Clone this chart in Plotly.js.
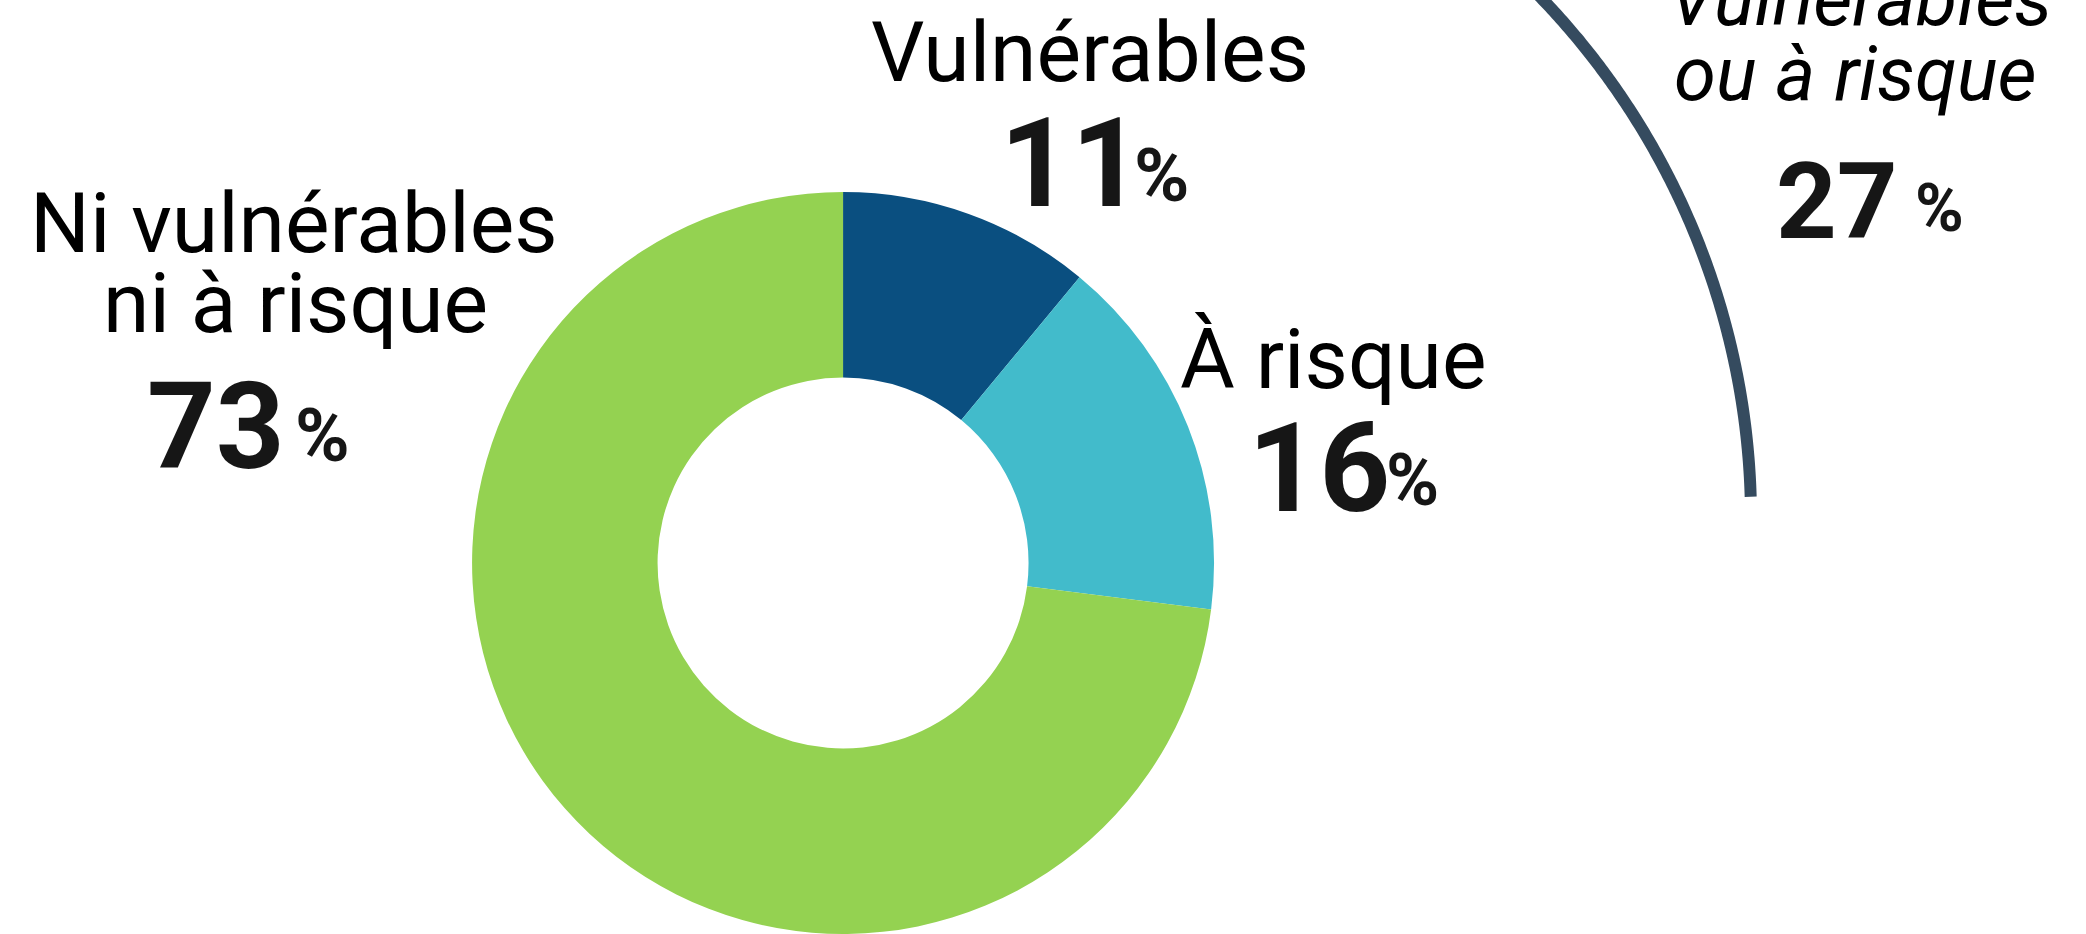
<!DOCTYPE html>
<html>
<head>
<meta charset="utf-8">
<script src="https://cdn.plot.ly/plotly-3.0.1.min.js"></script>
<style>
  html, body { margin: 0; padding: 0; background: #ffffff; }
  #chart { width: 2086px; height: 934px; }
</style>
</head>
<body>
<div id="chart"></div>
<script>
// ---- data ----
const categories = ["Vulnérables", "À risque", "Ni vulnérables ni à risque"];
const values = [11, 16, 73];
const colors = ["#0A4F80", "#42BBCB", "#94D251"];
const groupLabel = "Vulnérables ou à risque";
const groupValue = values[0] + values[1];

// ---- layout helpers (pixel coordinates on a hidden 2086x934 axis) ----
const W = 2086, H = 934;
const FONT = "Roboto, 'Noto Sans', sans-serif";
const DESC = 0.244; // Roboto descent ratio

function label(text, cx, baseline, size, italic) {
  return {
    xref: "x", yref: "y", x: cx, y: baseline + DESC * size + 2,
    xanchor: "center", yanchor: "bottom", showarrow: false,
    text: italic ? "<i>" + text + "</i>" : text,
    font: { family: FONT, size: size, color: "#000000" }
  };
}
function num(text, xLeft, baseline, size) {
  return {
    xref: "x", yref: "y", x: xLeft, y: baseline + DESC * size + 2,
    xanchor: "left", yanchor: "bottom", showarrow: false,
    text: text,
    font: { family: FONT, size: size, color: "#161616", weight: 700 }
  };
}

// decorative arc around the "vulnérables ou à risque" group
const arc = { cx: 999, cy: 519, r: 752, a0: 0, a1: 88.3 };
const arcX = [], arcY = [];
for (let i = 0; i <= 360; i++) {
  const a = (arc.a0 + (arc.a1 - arc.a0) * i / 360) * Math.PI / 180;
  arcX.push(arc.cx + arc.r * Math.sin(a));
  arcY.push(arc.cy - arc.r * Math.cos(a));
}

const nameParts = categories[2].split(" ni ");

const annotations = [
  // Vulnérables
  label(categories[0], 1090, 82, 84),
  num(String(values[0]), 998, 206, 124),
  num("%", 1132, 201, 75),
  // À risque
  label(categories[1], 1333, 388, 84),
  num(String(values[1]), 1246, 511, 124),
  num("%", 1384, 505, 72),
  // Ni vulnérables ni à risque
  label(nameParts[0], 294, 252, 84),
  label("ni " + nameParts[1], 295, 332, 84),
  num(String(values[2]), 145, 468, 120),
  num("%", 293, 461, 74),
  // group
  label(groupLabel.split(" ou ")[0], 1860, 25, 76, true),
  label("ou " + groupLabel.split(" ou ")[1], 1855, 100, 76, true),
  num(String(groupValue), 1774, 238, 106),
  num("%", 1913, 231, 66)
];

const data = [
  {
    type: "pie",
    labels: categories,
    values: values,
    sort: false,
    direction: "clockwise",
    rotation: 0,
    hole: 0.5,
    textinfo: "none",
    hoverinfo: "none",
    marker: { colors: colors, line: { width: 0 } },
    domain: { x: [0.2263, 0.5820], y: [0, 0.7944] },
    showlegend: false
  },
  {
    type: "scatter", mode: "lines",
    x: arcX, y: arcY,
    line: { color: "#354B5F", width: 12, simplify: false, shape: "linear" },
    hoverinfo: "skip", showlegend: false
  }
];

const layout = {
  width: W, height: H,
  margin: { l: 0, r: 0, t: 0, b: 0, pad: 0 },
  paper_bgcolor: "#ffffff", plot_bgcolor: "rgba(0,0,0,0)",
  showlegend: false,
  xaxis: { range: [0, W], visible: false, fixedrange: true },
  yaxis: { range: [H, 0], visible: false, fixedrange: true },
  annotations: annotations
};

Plotly.newPlot("chart", data, layout, { displayModeBar: false, staticPlot: true });
</script>
</body>
</html>
